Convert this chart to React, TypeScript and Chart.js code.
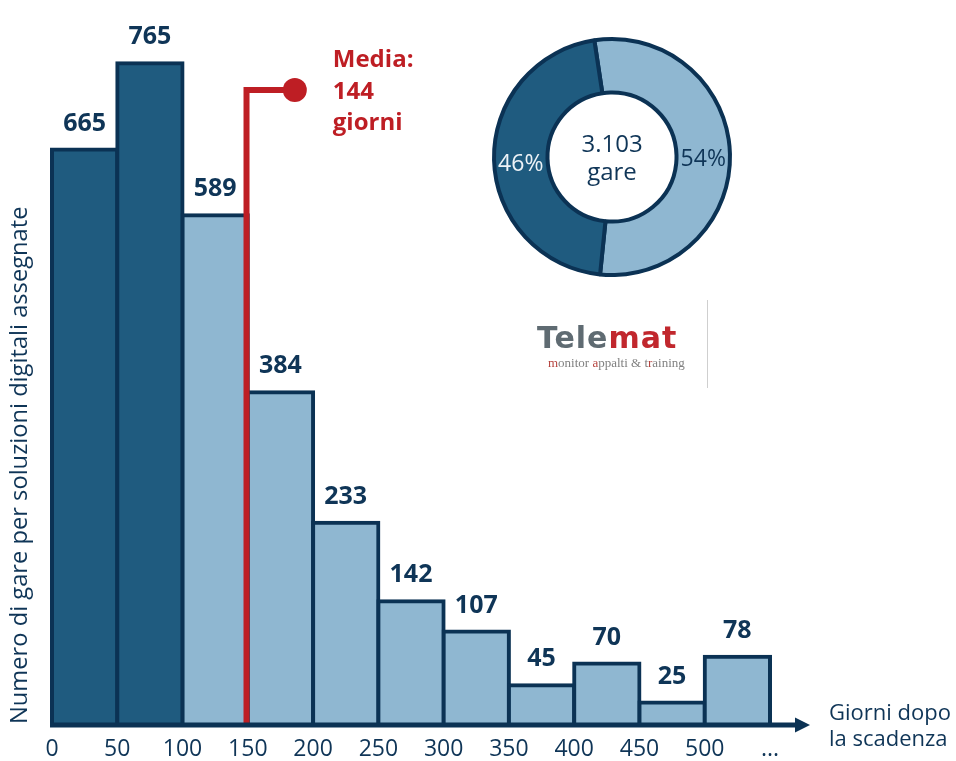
import React, { useEffect, useRef } from 'react';
import { Chart, registerables } from 'chart.js';

Chart.register(...registerables);

// ---------------- data ----------------
const binStarts = [0, 50, 100, 150, 200, 250, 300, 350, 400, 450, 500];
const binWidth = 50;
const gareCounts = [665, 765, 589, 384, 233, 142, 107, 45, 70, 25, 78];
const barTone = ['dark', 'dark', 'light', 'light', 'light', 'light', 'light', 'light', 'light', 'light', 'light'];
const xTickValues = [0, 50, 100, 150, 200, 250, 300, 350, 400, 450, 500, 550];
const xTickLabels = ['0', '50', '100', '150', '200', '250', '300', '350', '400', '450', '500', '...'];
const yAxisMax = 800;
const xAxisMax = 550;

const mediaGiorni = 144;
const mediaMarkerX = 149; // where the red marker is drawn (days)
const mediaMarkerTop = 734; // height of the marker elbow (gare)
const mediaDotX = 186; // where the marker dot sits (days)

const donutLabels = ['Oltre 100 giorni', 'Entro 100 giorni'];
const donutShares = [54, 46];
const donutTones = ['light', 'dark'];
const totalGare = 3103;

const yAxisTitle = 'Numero di gare per soluzioni digitali assegnate';
const xAxisTitle = ['Giorni dopo', 'la scadenza'];
const mediaTitle = 'Media:';
const mediaUnit = 'giorni';
const centerUnit = 'gare';

// ---------------- styles ----------------
const FONT = "'Open Sans', sans-serif";
const NAVY = '#0b3254';
const DARK = '#1f5b7f';
const LIGHT = '#8fb7d1';
const RED = '#be1e24';
const TEXT = '#0f3557';
const toneColor = (t: string) => (t === 'dark' ? DARK : LIGHT);
const fmtIt = (n: number) => String(n).replace(/\B(?=(\d{3})+(?!\d))/g, '.');

Chart.defaults.font.family = FONT;

const overlayPlugin = {
  id: 'overlay',
  afterDatasetsDraw(chart: any) {
    const ctx = chart.ctx as CanvasRenderingContext2D;
    const xs = chart.scales.x;
    const ys = chart.scales.y;
    const meta = chart.getDatasetMeta(0);
    ctx.save();

    // value labels
    ctx.font = `bold 25px ${FONT}`;
    ctx.fillStyle = TEXT;
    ctx.textAlign = 'center';
    ctx.textBaseline = 'middle';
    meta.data.forEach((el: any, i: number) => {
      ctx.fillText(String(gareCounts[i]), el.x, el.y - 26);
    });

    // media marker
    const base = ys.getPixelForValue(0);
    const mx = xs.getPixelForValue(mediaMarkerX);
    const my = ys.getPixelForValue(mediaMarkerTop);
    const dx = xs.getPixelForValue(mediaDotX);
    ctx.strokeStyle = RED;
    ctx.lineWidth = 6;
    ctx.lineJoin = 'miter';
    ctx.beginPath();
    ctx.moveTo(mx, base);
    ctx.lineTo(mx, my);
    ctx.lineTo(dx, my);
    ctx.stroke();
    ctx.fillStyle = RED;
    ctx.beginPath();
    ctx.arc(dx, my, 12, 0, Math.PI * 2);
    ctx.fill();

    ctx.font = `bold 24px ${FONT}`;
    ctx.textAlign = 'left';
    ctx.textBaseline = 'alphabetic';
    const tx = dx + 38;
    ctx.fillText(mediaTitle, tx, my - 23);
    ctx.fillText(String(mediaGiorni), tx, my + 9);
    ctx.fillText(mediaUnit, tx, my + 40);

    // x axis with arrow
    const y0 = base + 1;
    const xStart = xs.getPixelForValue(0) - 2;
    const tip = xs.getPixelForValue(xAxisMax) + 40;
    ctx.strokeStyle = NAVY;
    ctx.lineWidth = 5;
    ctx.lineCap = 'butt';
    ctx.beginPath();
    ctx.moveTo(xStart, y0);
    ctx.lineTo(tip - 12, y0);
    ctx.stroke();
    ctx.fillStyle = NAVY;
    ctx.beginPath();
    ctx.moveTo(tip, y0);
    ctx.lineTo(tip - 15, y0 - 7.5);
    ctx.lineTo(tip - 15, y0 + 7.5);
    ctx.closePath();
    ctx.fill();

    // x axis title
    ctx.fillStyle = TEXT;
    ctx.font = `22px ${FONT}`;
    ctx.textAlign = 'left';
    ctx.textBaseline = 'alphabetic';
    ctx.fillText(xAxisTitle[0], tip + 19, y0 - 5.5);
    ctx.fillText(xAxisTitle[1], tip + 19, y0 + 20.5);

    // Telemat logo
    ctx.font = `bold 30px 'DejaVu Sans', sans-serif`;
    (ctx as any).letterSpacing = '1px';
    ctx.fillStyle = '#5f6b72';
    ctx.fillText('Tele', 537, 348);
    const wTele = ctx.measureText('Tele').width;
    ctx.fillStyle = '#c1272d';
    ctx.fillText('mat', 537 + wTele, 348);
    (ctx as any).letterSpacing = '0px';

    ctx.font = `13px 'Liberation Serif', serif`;
    const sub = 'monitor appalti & training';
    const redIdx = new Set([0, 8, 19]);
    let sx = 548;
    for (let i = 0; i < sub.length; i++) {
      ctx.fillStyle = redIdx.has(i) ? '#b5423d' : '#808080';
      ctx.fillText(sub[i], sx, 367);
      sx += ctx.measureText(sub[i]).width;
    }
    ctx.strokeStyle = '#cfcfcf';
    ctx.lineWidth = 1;
    ctx.beginPath();
    ctx.moveTo(707.5, 300);
    ctx.lineTo(707.5, 388);
    ctx.stroke();

    ctx.restore();
  },
};

const donutPlugin = {
  id: 'donutText',
  afterDatasetsDraw(chart: any) {
    const ctx = chart.ctx as CanvasRenderingContext2D;
    const meta = chart.getDatasetMeta(0);
    ctx.save();
    ctx.font = `23px ${FONT}`;
    ctx.textAlign = 'center';
    ctx.textBaseline = 'middle';
    meta.data.forEach((arc: any, i: number) => {
      const p = arc.tooltipPosition();
      ctx.fillStyle = donutTones[i] === 'dark' ? '#eef3f7' : TEXT;
      ctx.fillText(`${donutShares[i]}%`, p.x, p.y + 5);
    });
    const c = meta.data[0];
    ctx.fillStyle = TEXT;
    ctx.font = `24px ${FONT}`;
    ctx.textBaseline = 'alphabetic';
    ctx.fillText(fmtIt(totalGare), c.x, c.y - 5);
    ctx.fillText(centerUnit, c.x, c.y + 23);
    ctx.restore();
  },
};

export default function App() {
  const mainRef = useRef<HTMLCanvasElement>(null);
  const donutRef = useRef<HTMLCanvasElement>(null);

  useEffect(() => {
    const main = new Chart(mainRef.current!, {
      type: 'bar',
      data: {
        datasets: [
          {
            data: binStarts.map((s, i) => ({ x: s + binWidth / 2, y: gareCounts[i] })),
            backgroundColor: barTone.map(toneColor),
            borderColor: NAVY,
            borderWidth: 4,
            borderSkipped: 'start',
            inflateAmount: 2,
            barPercentage: 1,
            categoryPercentage: 1,
            clip: false,
          } as any,
        ],
      },
      options: {
        responsive: false,
        animation: false,
        events: [],
        layout: { padding: { top: 33, right: 186, bottom: 0, left: 0 } },
        plugins: { legend: { display: false }, tooltip: { enabled: false } },
        scales: {
          x: {
            type: 'linear',
            min: 0,
            max: xAxisMax,
            offset: false,
            afterBuildTicks: (s: any) => {
              s.ticks = xTickValues.map((v) => ({ value: v }));
            },
            afterFit: (s: any) => {
              s.height = 37;
            },
            grid: { display: false, drawTicks: false },
            border: { display: false },
            ticks: {
              autoSkip: false,
              maxRotation: 0,
              padding: 12,
              color: TEXT,
              font: { size: 23 },
              callback: (_v: any, i: number) => xTickLabels[i],
            },
          },
          y: {
            type: 'linear',
            min: 0,
            max: yAxisMax,
            afterFit: (s: any) => {
              s.width = 52;
            },
            grid: { display: false, drawTicks: false },
            border: { display: false },
            ticks: { display: false },
            title: {
              display: true,
              text: yAxisTitle,
              color: TEXT,
              font: { size: 23.7 },
              align: 'start',
              padding: { top: 6, bottom: 0 },
            },
          },
        },
      } as any,
      plugins: [overlayPlugin],
    });

    const donut = new Chart(donutRef.current!, {
      type: 'doughnut',
      data: {
        labels: donutLabels,
        datasets: [
          {
            data: donutShares,
            backgroundColor: donutTones.map(toneColor),
            borderColor: NAVY,
            borderWidth: 4,
          },
        ],
      },
      options: {
        responsive: false,
        animation: false,
        events: [],
        radius: 118,
        cutout: 70,
        rotation: -8.6,
        layout: { padding: 0 },
        plugins: { legend: { display: false }, tooltip: { enabled: false } },
      } as any,
      plugins: [donutPlugin],
    });

    return () => {
      main.destroy();
      donut.destroy();
    };
  }, []);

  return (
    <div style={{ position: 'absolute', left: 0, top: 0, width: 956, height: 761, background: '#fff' }}>
      <canvas ref={mainRef} width={956} height={761} style={{ position: 'absolute', left: 0, top: 0 }} />
      <canvas ref={donutRef} width={260} height={260} style={{ position: 'absolute', left: 482, top: 27 }} />
    </div>
  );
}
